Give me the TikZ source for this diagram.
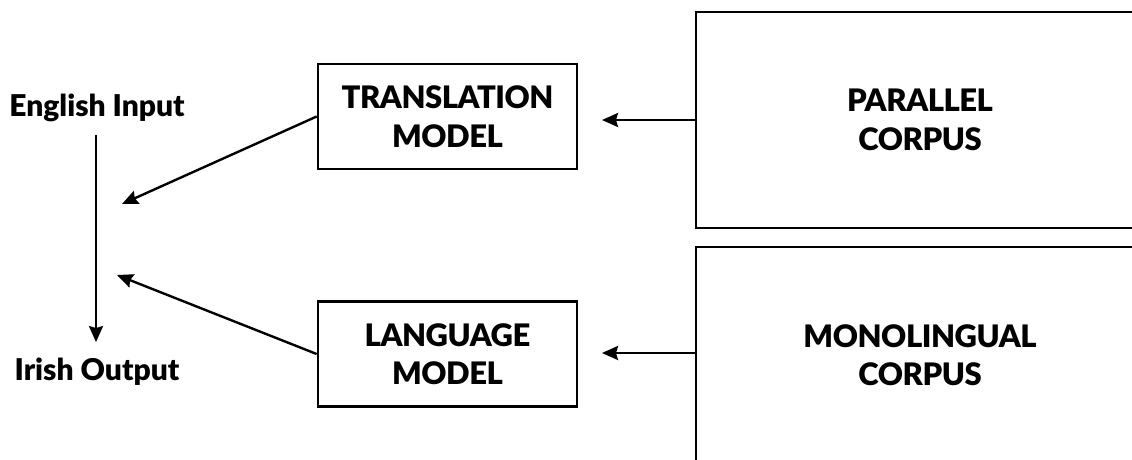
\documentclass[tikz,border=0pt]{standalone}
\usepackage{fontspec}
\setmainfont{Lato}[BoldFont={Lato Black}]
\newfontfamily\boxfont{Lato Black}[LetterSpace=-1.5]
\usetikzlibrary{arrows.meta}
\begin{document}
\begin{tikzpicture}[x=1pt,y=-1pt,
  boxtext/.style={font=\boxfont\fontsize{31}{38.5}\selectfont, align=center},
  modelbox/.style={draw, line width=2.7pt, minimum width=259pt, minimum height=105pt, inner sep=0pt, boxtext},
  corpusbox/.style={draw, line width=2.7pt, minimum width=448pt, minimum height=216pt, inner sep=0pt, boxtext},
  endlabel/.style={font=\bfseries\fontsize{30}{34}\selectfont, inner sep=0pt},
  flow/.style={line width=2.4pt, -{Stealth[length=16pt,width=14pt,inset=2pt]}}]
  % page area
  \clip (0,0) rectangle (1132,459);
  \fill[white] (0,0) rectangle (1132,459);

  % sources and models
  \node[corpusbox] (par) at (920,120) {PARALLEL\\CORPUS};
  \node[corpusbox] (mono) at (920,355) {MONOLINGUAL\\CORPUS};
  \node[modelbox] (tm) at (447.5,116.5) {TRANSLATION\\MODEL};
  \node[modelbox] (lm) at (447.5,354) {LANGUAGE\\MODEL};

  % input and output
  \node[endlabel] (en) at (97,108) {English Input};
  \node[endlabel] (ga) at (97,372) {Irish Output};

  % free ends of the model arrows
  \coordinate (tmend) at (122,204);
  \coordinate (lmend) at (117,275);
  \coordinate (tmtip) at (602,120);
  \coordinate (lmtip) at (602,353);

  % connectors
  \draw[flow] (par.west |- tmtip) -- (tmtip);
  \draw[flow] (mono.west |- lmtip) -- (lmtip);
  \draw[flow] (tm.west) -- (tmend);
  \draw[flow] (lm.west) -- (lmend);
  \draw[flow] ([yshift=-13pt]en.south -| 96,0) -- ([yshift=16pt]ga.north -| 96,0);
\end{tikzpicture}
\end{document}
